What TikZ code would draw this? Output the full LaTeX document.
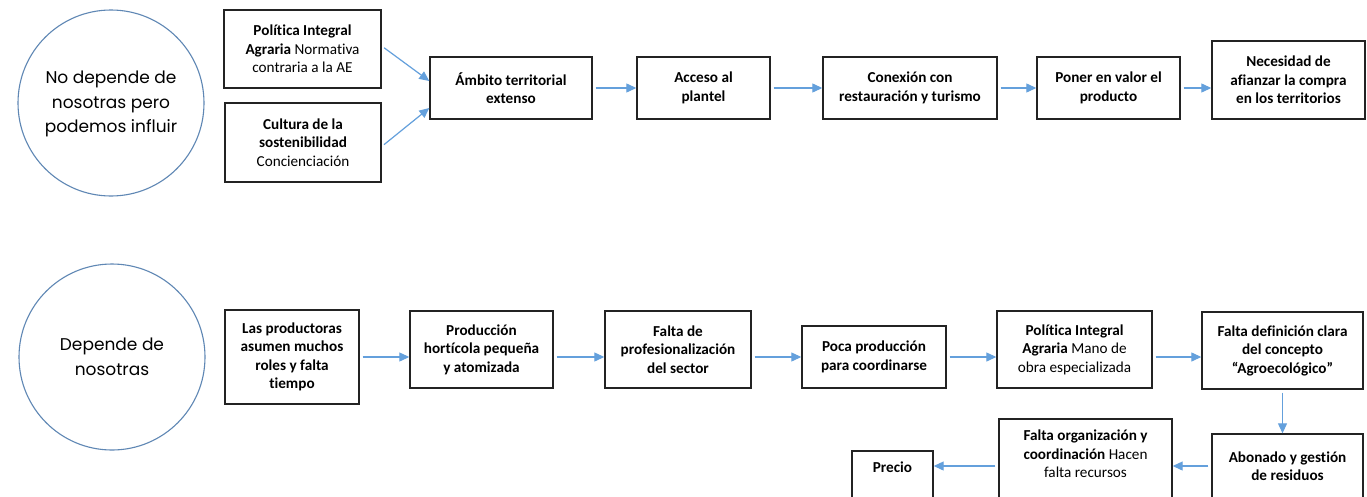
\documentclass[tikz,border=0pt]{standalone}
\usepackage{fontspec}
\setmainfont{Carlito}[Ligatures=CommonOff]
\newfontfamily\circfont{Poppins}
\usetikzlibrary{arrows.meta,calc}
\definecolor{arrc}{RGB}{100,160,220}
\definecolor{circc}{RGB}{95,135,180}
\definecolor{bordc}{RGB}{35,35,35}
\tikzset{
  box/.style={draw=bordc, line width=1.4pt, align=center, inner sep=2pt,
    font=\fontsize{15.2}{18.5}\selectfont},
  bubble/.style={circle, draw=circc, line width=1.1pt, minimum size=186pt, inner sep=0pt,
    align=center, font=\circfont\fontsize{17}{24.5}\selectfont},
  conn/.style={draw=arrc, line width=1.2pt, -{Triangle[length=10pt,width=9pt]}, shorten <=3pt}
}
\begin{document}
\begin{tikzpicture}[x=1pt,y=-1pt]
\useasboundingbox (0,0) rectangle (1367,496);
\clip (0,0) rectangle (1367,496);
\fill[white] (0,0) rectangle (1367,496);
% circles
\node[bubble, text height=64pt] (c1) at (111,103) {No depende de\\nosotras pero\\podemos influir};
\node[bubble] (c2) at (112,357) {Depende de\\nosotras};
% top row
\node[box, minimum width=157pt, minimum height=78pt] (pia1) at (302.5,49) {\textbf{Política Integral}\\\textbf{Agraria} Normativa\\contraria a la AE};
\node[box, minimum width=156pt, minimum height=79pt] (cult) at (303,142.5) {\textbf{Cultura de la}\\\textbf{sostenibilidad}\\Concienciación};
\node[box, minimum width=162pt, minimum height=62pt] (amb) at (511,88) {\textbf{Ámbito territorial}\\\textbf{extenso}};
\node[box, minimum width=133pt, minimum height=62pt] (acc) at (703.5,88) {\textbf{Acceso al}\\\textbf{plantel}};
\node[box, minimum width=174pt, minimum height=62pt] (con) at (910,88) {\textbf{Conexión con}\\\textbf{restauración y turismo}};
\node[box, minimum width=143pt, minimum height=62pt] (pon) at (1108.5,88) {\textbf{Poner en valor el}\\\textbf{producto}};
\node[box, minimum width=153pt, minimum height=78pt] (nec) at (1288.5,80) {\textbf{Necesidad de}\\\textbf{afianzar la compra}\\\textbf{en los territorios}};
% bottom row
\node[box, minimum width=134pt, minimum height=94pt] (lp) at (292,357) {\textbf{Las productoras}\\\textbf{asumen muchos}\\\textbf{roles y falta}\\\textbf{tiempo}};
\node[box, minimum width=143pt, minimum height=77pt] (ph) at (481.5,349.5) {\textbf{Producción}\\\textbf{hortícola pequeña}\\\textbf{y atomizada}};
\node[box, minimum width=146pt, minimum height=77pt] (fp) at (678,349.5) {\textbf{Falta de}\\\textbf{profesionalización}\\\textbf{del sector}};
\node[box, minimum width=144pt, minimum height=62pt] (poca) at (874,357) {\textbf{Poca producción}\\\textbf{para coordinarse}};
\node[box, minimum width=155pt, minimum height=77pt] (pia2) at (1074.5,349.5) {\textbf{Política Integral}\\\textbf{Agraria} Mano de\\obra especializada};
\node[box, minimum width=161pt, minimum height=77pt] (fd) at (1282.5,350.5) {\textbf{Falta definición clara}\\\textbf{del concepto}\\\textbf{“Agroecológico”}};
\node[box, minimum width=151pt, minimum height=64pt] (ab) at (1287.5,466) {\textbf{Abonado y gestión}\\\textbf{de residuos}};
\node[box, minimum width=173pt, minimum height=82pt, text depth=12pt] (fo) at (1085.5,460) {\textbf{Falta organización y}\\\textbf{coordinación} Hacen\\falta recursos};
\node[box, minimum width=81pt, minimum height=62pt, text depth=29pt] (precio) at (892.5,482) {\textbf{Precio}};
% connectors
\coordinate (yb) at (0,357);
\coordinate (yc) at (0,466);
\draw[conn] ($(pia1.east)+(0,-3)$) -- ($(amb.west)+(0,-7)$);
\draw[conn] ($(cult.east)+(0,4)$) -- ($(amb.west)+(0,20)$);
\draw[conn] (amb.east) -- (acc.west);
\draw[conn] (acc.east) -- (con.west);
\draw[conn] (con.east) -- (pon.west);
\draw[conn] (pon.east) -- (pon.east -| nec.west);
\draw[conn] (lp.east |- yb) -- (ph.west |- yb);
\draw[conn] (ph.east |- yb) -- (fp.west |- yb);
\draw[conn] (fp.east |- yb) -- (poca.west |- yb);
\draw[conn] (poca.east |- yb) -- (pia2.west |- yb);
\draw[conn] (pia2.east |- yb) -- (fd.west |- yb);
\draw[conn] (fd.south) -- (fd.south |- ab.north);
\draw[conn] (ab.west |- yc) -- (fo.east |- yc);
\draw[conn] (fo.west |- yc) -- (precio.east |- yc);
\end{tikzpicture}
\end{document}
